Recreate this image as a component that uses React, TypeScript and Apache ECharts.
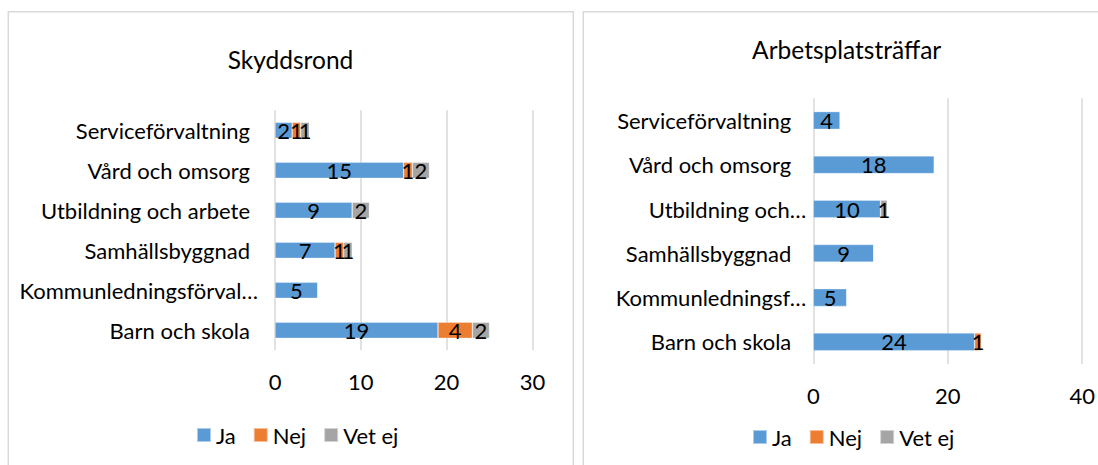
import React, { useEffect, useRef } from 'react';
import * as echarts from 'echarts';

const categories = [
  'Serviceförvaltning',
  'Vård och omsorg',
  'Utbildning och arbete',
  'Samhällsbyggnad',
  'Kommunledningsförvaltning',
  'Barn och skola',
];
const seriesNames = ['Ja', 'Nej', 'Vet ej'];
const skyddsrondJa = [2, 15, 9, 7, 5, 19];
const skyddsrondNej = [1, 1, 0, 1, 0, 4];
const skyddsrondVetEj = [1, 2, 2, 1, 0, 2];
const aptJa = [4, 18, 10, 9, 5, 24];
const aptNej = [0, 0, 0, 0, 0, 1];
const aptVetEj = [0, 0, 1, 0, 0, 0];
const chartTitles = ['Skyddsrond', 'Arbetsplatsträffar'];
const leftShortLabels: Record<string, string> = {
  'Kommunledningsförvaltning': 'Kommunledningsförval…',
};
const rightShortLabels: Record<string, string> = {
  'Utbildning och arbete': 'Utbildning och…',
  'Kommunledningsförvaltning': 'Kommunledningsf…',
};

const COLORS = ['#5B9BD5', '#ED7D31', '#A5A5A5'];
const FONT = 'Lato';
const FS = 22;
const TFS = 24.5;

export default function App() {
  const ref = useRef<HTMLDivElement>(null);
  useEffect(() => {
    if (!ref.current) return;
    const chart = echarts.init(ref.current, null, { renderer: 'svg' });

    const labelFmt = (p: any) => (p.value ? String(p.value) : '');
    const mkSeries = (name: string, data: number[], idx: number, color: string, stack: string) => ({
      type: 'bar',
      name,
      data,
      stack,
      xAxisIndex: idx,
      yAxisIndex: idx,
      barWidth: '40%',
      itemStyle: { color, borderColor: 'rgba(255,255,255,0.5)', borderWidth: 0.6 },
      label: {
        show: true,
        position: 'inside',
        formatter: labelFmt,
        color: '#000',
        fontSize: FS,
        fontFamily: FONT,
        textBorderWidth: 0,
      },
    });

    const catLabel = (short: Record<string, string>, margin: number, pad: number) => ({
      margin,
      formatter: (v: string) => (short[v] ? `{t|${short[v]}}` : `{n|${v}}`),
      rich: {
        t: { fontSize: FS, fontFamily: FONT, color: '#000' },
        n: { fontSize: FS, fontFamily: FONT, color: '#000', padding: [0, pad, 0, 0] },
      },
    });

    const valueAxis = (gridIndex: number, max: number, interval: number) => ({
      type: 'value',
      gridIndex,
      min: 0,
      max,
      interval,
      axisLine: { show: false },
      axisTick: { show: false },
      splitLine: { show: true, lineStyle: { color: '#d9d9d9', width: 1.5 } },
      axisLabel: { fontSize: FS, fontFamily: FONT, color: '#000', margin: 20 },
    });

    const catAxis = (gridIndex: number, label: any) => ({
      type: 'category',
      gridIndex,
      data: categories,
      inverse: true,
      axisLine: { show: false },
      axisTick: { show: false },
      splitLine: { show: false },
      axisLabel: label,
    });

    const legend = (left: number, top: number) => ({
      data: seriesNames,
      left,
      top,
      padding: 0,
      icon: 'rect',
      itemWidth: 14,
      itemHeight: 14,
      itemGap: 17,
      textStyle: { fontSize: FS, fontFamily: FONT, color: '#000' },
    });

    chart.setOption({
      animation: false,
      color: COLORS,
      textStyle: { fontFamily: FONT },
      title: [
        {
          text: chartTitles[0],
          left: 290.5,
          top: 59,
          padding: 0,
          textAlign: 'center',
          textVerticalAlign: 'middle',
          textStyle: { fontSize: TFS, fontWeight: 'normal', color: '#000', fontFamily: FONT },
        },
        {
          text: chartTitles[1],
          left: 846.7,
          top: 49,
          padding: 0,
          textAlign: 'center',
          textVerticalAlign: 'middle',
          textStyle: { fontSize: TFS, fontWeight: 'normal', color: '#000', fontFamily: FONT },
        },
      ],
      legend: [legend(196, 424), legend(752, 426)],
      graphic: [
        {
          type: 'rect',
          silent: true,
          z: -10,
          shape: { x: 8.3, y: 11.7, width: 565, height: 480 },
          style: { fill: 'none', stroke: '#d9d9d9', lineWidth: 1.5 },
        },
        {
          type: 'rect',
          silent: true,
          z: -10,
          shape: { x: 583.3, y: 11.7, width: 540, height: 480 },
          style: { fill: 'none', stroke: '#d9d9d9', lineWidth: 1.5 },
        },
      ],
      grid: [
        { left: 275, top: 110.3, width: 257.4, height: 240 },
        { left: 813.3, top: 98.3, width: 269.4, height: 265.7 },
      ],
      xAxis: [valueAxis(0, 30, 10), valueAxis(1, 40, 20)],
      yAxis: [catAxis(0, catLabel(leftShortLabels, 17, 8)), catAxis(1, catLabel(rightShortLabels, 7, 15))],
      series: [
        mkSeries(seriesNames[0], skyddsrondJa, 0, COLORS[0], 's'),
        mkSeries(seriesNames[1], skyddsrondNej, 0, COLORS[1], 's'),
        mkSeries(seriesNames[2], skyddsrondVetEj, 0, COLORS[2], 's'),
        mkSeries(seriesNames[0], aptJa, 1, COLORS[0], 'a'),
        mkSeries(seriesNames[1], aptNej, 1, COLORS[1], 'a'),
        mkSeries(seriesNames[2], aptVetEj, 1, COLORS[2], 'a'),
      ],
    });
    return () => chart.dispose();
  }, []);

  return (
    <div
      ref={ref}
      style={{ position: 'absolute', left: 0, top: 0, width: 1098, height: 465, background: '#fff' }}
    />
  );
}
